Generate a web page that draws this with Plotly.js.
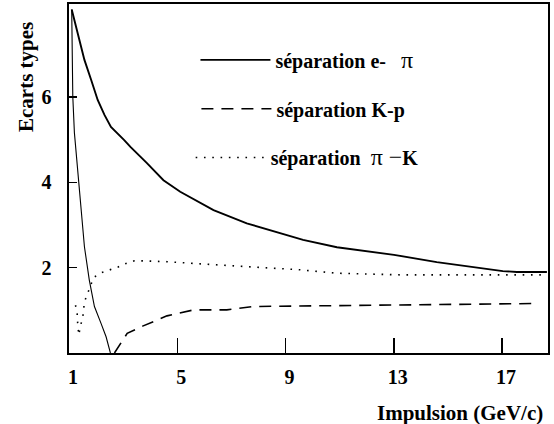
<!DOCTYPE html>
<html>
<head>
<meta charset="utf-8">
<script src="https://cdn.plot.ly/plotly-3.0.1.min.js"></script>
</head>
<body style="margin:0">
<div id="chart"></div>
<script>
// e-pi separation, upper branch
const epiX = [1.10,1.32,1.57,1.82,2.06,2.31,2.55,3.04,3.27,3.88,4.49,5.11,6.34,7.57,8.80,9.65,10.90,13.01,14.59,15.81,17.03,17.55,18.66];
const epiY = [8.05,7.49,6.87,6.40,5.93,5.58,5.30,4.99,4.83,4.45,4.05,3.78,3.35,3.04,2.81,2.65,2.48,2.30,2.13,2.02,1.92,1.90,1.90];
// e-pi separation, steep low-momentum branch
const epiLowX = [1.10,1.14,1.20,1.35,1.45,1.57,1.75,1.94,2.18,2.37,2.53];
const epiLowY = [8.05,6.01,5.16,4.05,3.28,2.49,1.71,1.09,0.70,0.38,0.00];
// K-p separation
const kpX = [2.68,3.15,3.72,4.62,5.60,6.83,7.82,9.29,10.90,13.34,15.81,18.28];
const kpY = [0.00,0.46,0.63,0.87,1.01,1.01,1.09,1.10,1.10,1.12,1.15,1.16];
// pi-K separation
const piKX = [1.24,1.30,1.32,1.36,1.42,1.51,1.57,1.69,1.91,2.18,2.49,2.80,3.11,3.41,3.72,4.62,5.85,7.08,8.31,9.54,10.90,13.34,15.81,18.66];
const piKY = [1.12,0.94,0.70,0.42,0.62,0.85,1.20,1.41,1.77,1.88,1.95,2.01,2.10,2.16,2.16,2.14,2.09,2.04,1.99,1.95,1.87,1.83,1.83,1.83];

const xTicks = [1,5,9,13,17];
const yTicks = [2,4,6];
const nb = '\u00a0';
const names = [
  '<b>séparation e-</b>' + nb + nb + nb + '<span style="font-size:24px">π</span>',
  '<b>séparation K-p</b>',
  '<b>séparation</b>' + nb + nb + '<span style="font-size:24px">π −</span><b>K</b>'
];
const xTitle = 'Impulsion (GeV/c)';
const yTitle = 'Ecarts types';

const FONT = 'Times New Roman';
function f(size) { return {family: FONT, size: size, color: '#000'}; }

const traces = [
  {x: epiX, y: epiY, type: 'scatter', mode: 'lines', name: names[0], legend: 'legend',
   line: {color: '#000', width: 1.9}},
  {x: epiLowX, y: epiLowY, type: 'scatter', mode: 'lines', showlegend: false,
   line: {color: '#000', width: 1.1}},
  {x: kpX, y: kpY, type: 'scatter', mode: 'lines', name: names[1], legend: 'legend2',
   line: {color: '#000', width: 1.6, dash: '12px,8px'}},
  {x: piKX, y: piKY, type: 'scatter', mode: 'lines', name: names[2], legend: 'legend3',
   line: {color: '#000', width: 1.6, dash: '1.6px,6.7px'}}
];

function leg(x, y) {
  return {bgcolor: 'rgba(0,0,0,0)', borderwidth: 0, font: f(20), itemwidth: 70,
    xanchor: 'left', yanchor: 'middle', x: x, y: y};
}

const layout = {
  width: 554, height: 424,
  margin: {l: 69, r: 6, t: 4, b: 71},
  font: {family: FONT, color: '#000'},
  xaxis: {
    range: [1, 18.7], tickvals: xTicks, ticktext: xTicks.map(v => '<b>' + v + '</b>'),
    ticks: 'inside', ticklen: 15, tickwidth: 1.5, tickcolor: '#000',
    showline: true, linecolor: '#000', linewidth: 1.6, mirror: true,
    showgrid: false, zeroline: false,
    tickfont: f(20),
    ticklabelstandoff: 5, ticklabelshift: 4
  },
  yaxis: {
    range: [0, 8.18], tickvals: yTicks, ticktext: yTicks.map(v => '<b>' + v + '</b>'),
    ticks: 'inside', ticklen: 8, tickwidth: 1.5, tickcolor: '#000',
    showline: true, linecolor: '#000', linewidth: 1.6, mirror: true,
    showgrid: false, zeroline: false,
    tickfont: f(20),
    ticklabelstandoff: 12
  },
  legend: leg(0.264, 0.84),
  legend2: leg(0.266, 0.70),
  legend3: leg(0.254, 0.56),
  annotations: [
    {text: '<b>' + yTitle + '</b>', xref: 'paper', yref: 'paper', x: -0.091, y: 0.792, textangle: -90,
     xanchor: 'center', yanchor: 'middle', showarrow: false, font: f(21)},
    {text: '<b>' + xTitle + '</b>', xref: 'paper', yref: 'paper', x: 0.816, y: -0.172,
     xanchor: 'center', yanchor: 'middle', showarrow: false, font: f(21)}
  ],
  showlegend: true
};

Plotly.newPlot('chart', traces, layout, {staticPlot: true});
</script>
</body>
</html>
